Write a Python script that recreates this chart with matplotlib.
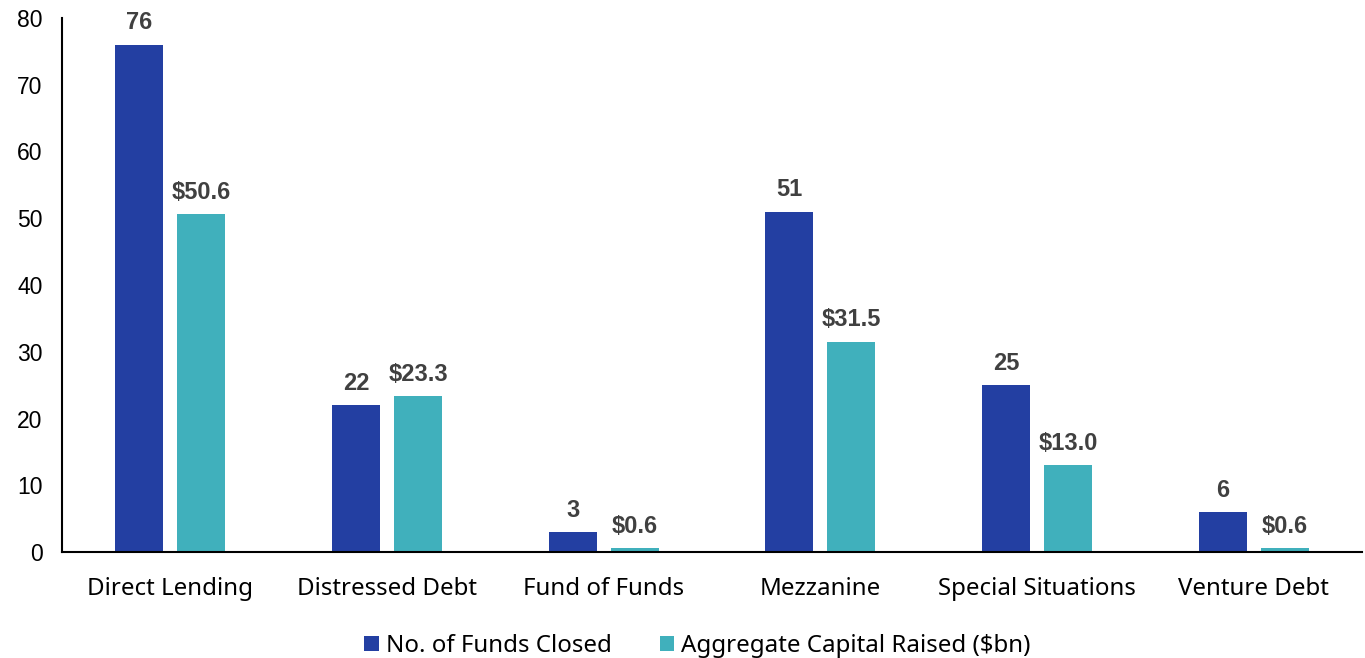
import matplotlib.pyplot as plt
import numpy as np

categories = ["Direct Lending", "Distressed Debt", "Fund of Funds",
              "Mezzanine", "Special Situations", "Venture Debt"]
funds_closed = [76, 22, 3, 51, 25, 6]
capital_raised = [50.6, 23.3, 0.6, 31.5, 13.0, 0.6]
series_names = ["No. of Funds Closed", "Aggregate Capital Raised ($bn)"]

blue = "#233FA2"
teal = "#40B0BC"
label_col = "#404040"

fig = plt.figure(figsize=(13.65, 6.58), dpi=100)
ax = fig.add_axes([62/1365, 1-552/658, 1300/1365, 534/658])

x = np.arange(len(categories))
w = 0.222
off = 0.143
b1 = ax.bar(x - off, funds_closed, w, color=blue, label=series_names[0])
b2 = ax.bar(x + off, capital_raised, w, color=teal, label=series_names[1])

for rect, v in zip(b1, funds_closed):
    ax.annotate(f"{v}", (rect.get_x() + rect.get_width()/2, v),
                xytext=(0, 7.5), textcoords="offset points", ha="center", va="bottom",
                fontsize=17, fontweight="bold", color=label_col, family="Liberation Sans")
for rect, v in zip(b2, capital_raised):
    ax.annotate(f"${v:.1f}", (rect.get_x() + rect.get_width()/2, v),
                xytext=(0, 7.5), textcoords="offset points", ha="center", va="bottom",
                fontsize=17, fontweight="bold", color=label_col, family="Liberation Sans")

ax.set_xlim(-0.5, len(categories) - 0.5)
ax.set_ylim(0, 80)
ax.set_yticks(range(0, 81, 10))
ax.set_xticks(x)
ax.set_xticklabels(categories, fontsize=17.3, family="Noto Sans")
for t in ax.get_yticklabels():
    t.set_fontsize(16.5)
    t.set_family("Liberation Sans")
ax.tick_params(axis="y", length=0, pad=14)
ax.tick_params(axis="x", length=0, pad=18)
ax.spines["top"].set_visible(False)
ax.spines["right"].set_visible(False)
ax.spines["left"].set_linewidth(1.5)
ax.spines["bottom"].set_linewidth(1.5)

fig.legend(loc="lower center", bbox_to_anchor=(0.511, -0.033), ncol=2, frameon=False,
           prop={"family": "Noto Sans", "size": 17.3}, handlelength=0.6, handleheight=0.6,
           handletextpad=0.3, columnspacing=2.0)

fig.savefig("out.png", dpi=100)
